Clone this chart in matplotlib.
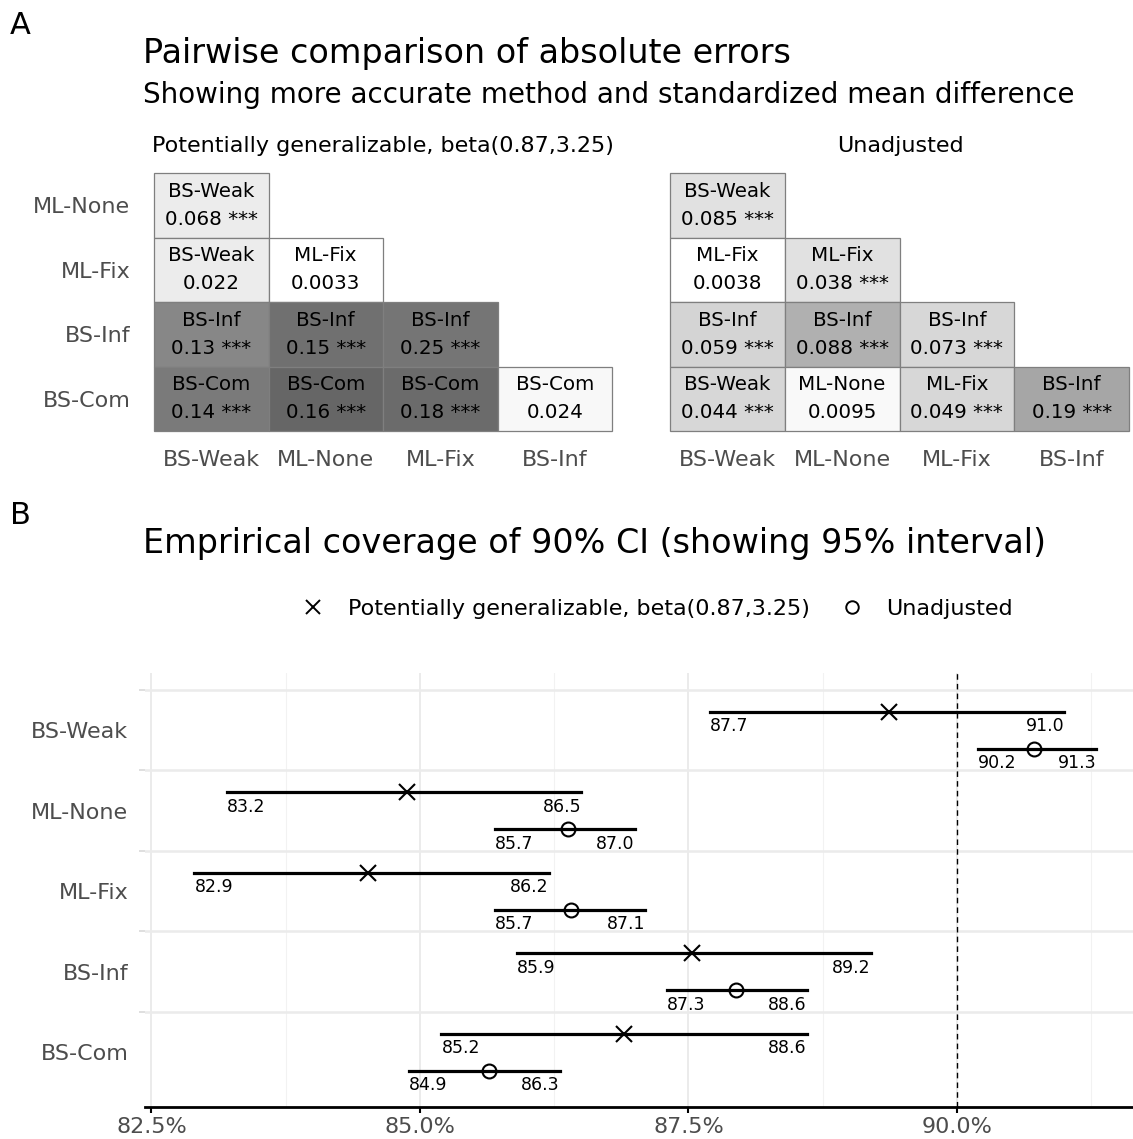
import numpy as np
import matplotlib.pyplot as plt
from matplotlib.colors import LinearSegmentedColormap
from matplotlib.lines import Line2D

W, H = 1133, 1139
DPI = 100

# ---- panel A data ----
methods_rows = ["ML-None", "ML-Fix", "BS-Inf", "BS-Com"]
methods_cols = ["BS-Weak", "ML-None", "ML-Fix", "BS-Inf"]

winner_left = [["BS-Weak"],
               ["BS-Weak", "ML-Fix"],
               ["BS-Inf", "BS-Inf", "BS-Inf"],
               ["BS-Com", "BS-Com", "BS-Com", "BS-Com"]]
smd_left = [["0.068"],
            ["0.022", "0.0033"],
            ["0.13", "0.15", "0.25"],
            ["0.14", "0.16", "0.18", "0.024"]]
sig_left = [[True],
            [False, False],
            [True, True, True],
            [True, True, True, False]]
shade_left = [[0.078],
              [0.078, 0.0],
              [0.47, 0.56, 0.54],
              [0.52, 0.60, 0.58, 0.031]]

winner_right = [["BS-Weak"],
                ["ML-Fix", "ML-Fix"],
                ["BS-Inf", "BS-Inf", "BS-Inf"],
                ["BS-Weak", "ML-None", "ML-Fix", "BS-Inf"]]
smd_right = [["0.085"],
             ["0.0038", "0.038"],
             ["0.059", "0.088", "0.073"],
             ["0.044", "0.0095", "0.049", "0.19"]]
sig_right = [[True],
             [False, True],
             [True, True, True],
             [True, False, True, True]]
shade_right = [[0.12],
               [0.0, 0.12],
               [0.17, 0.31, 0.16],
               [0.16, 0.027, 0.16, 0.35]]

# ---- panel B data ----
methods_b = ["BS-Weak", "ML-None", "ML-Fix", "BS-Inf", "BS-Com"]
gen_est = [89.37, 84.88, 84.52, 87.53, 86.90]
gen_lo = [87.7, 83.2, 82.9, 85.9, 85.2]
gen_hi = [91.0, 86.5, 86.2, 89.2, 88.6]
unadj_est = [90.72, 86.38, 86.41, 87.94, 85.64]
unadj_lo = [90.2, 85.7, 85.7, 87.3, 84.9]
unadj_hi = [91.3, 87.0, 87.1, 88.6, 86.3]
x_breaks = [82.5, 85.0, 87.5, 90.0]

gen_name = "Potentially generalizable, beta(0.87,3.25)"
unadj_name = "Unadjusted"

plt.rcParams['font.family'] = ['DejaVu Sans']
grey_cmap = LinearSegmentedColormap.from_list("wb", ["#ffffff", "#000000"])
axis_grey = "#4d4d4d"

fig = plt.figure(figsize=(W / DPI, H / DPI), dpi=DPI)


def px_axes(x0, y0, x1, y1):
    # pixel box (top-left origin) -> figure axes
    return fig.add_axes([x0 / W, 1 - y1 / H, (x1 - x0) / W, (y1 - y0) / H])


def fy(y):
    return 1 - y / H


def draw_grid(ax, winners, smds, sigs, shades, show_rows):
    for i in range(len(methods_rows)):
        for j in range(len(winners[i])):
            col = grey_cmap(shades[i][j])
            ax.add_patch(plt.Rectangle((j, i), 1, 1, facecolor=col,
                                       edgecolor="#7f7f7f", lw=0.9, clip_on=False))
            lab = smds[i][j] + (" ***" if sigs[i][j] else "")
            ax.text(j + 0.5, i + 0.28, winners[i][j], ha="center", va="center",
                    fontsize=14.3, color="black")
            ax.text(j + 0.5, i + 0.72, lab, ha="center", va="center",
                    fontsize=14.3, color="black")
    ax.set_xlim(0, 4)
    ax.set_ylim(4, 0)
    ax.set_xticks(np.arange(4) + 0.5)
    ax.set_xticklabels(methods_cols, fontsize=16, color=axis_grey)
    ax.set_yticks(np.arange(4) + 0.5)
    if show_rows:
        ax.set_yticklabels(methods_rows, fontsize=16, color=axis_grey)
    else:
        ax.set_yticklabels([])
    ax.tick_params(axis="x", length=0, pad=14)
    ax.tick_params(axis="y", length=0, pad=17)
    for s in ax.spines.values():
        s.set_visible(False)


axL = px_axes(154, 173, 612, 431)
draw_grid(axL, winner_left, smd_left, sig_left, shade_left, True)
axR = px_axes(670, 173, 1129, 431)
draw_grid(axR, winner_right, smd_right, sig_right, shade_right, False)

fig.text(10 / W, fy(25), "A", fontsize=22, va="center", ha="left")
fig.text(143 / W, fy(53), "Pairwise comparison of absolute errors",
         fontsize=24, va="center", ha="left")
fig.text(143 / W, fy(95), "Showing more accurate method and standardized mean difference",
         fontsize=20, va="center", ha="left")
fig.text(383 / W, fy(146), gen_name, fontsize=16, va="center", ha="center")
fig.text(900 / W, fy(146), unadj_name, fontsize=16, va="center", ha="center")

# ---- panel B ----
fig.text(10 / W, fy(515), "B", fontsize=22, va="center", ha="left")
fig.text(143 / W, fy(543), "Emprirical coverage of 90% CI (showing 95% interval)",
         fontsize=24, va="center", ha="left")

axB = px_axes(145, 673, 1133, 1107)
n = len(methods_b)
ypos = np.arange(n)[::-1] + 1.0
off = 0.23
for k in range(n):
    yg = ypos[k] + off
    yu = ypos[k] - off
    axB.plot([gen_lo[k], gen_hi[k]], [yg, yg], color="black", lw=2.3, zorder=3)
    axB.plot([gen_est[k]], [yg], marker="x", ms=11, mew=1.5, color="black", zorder=4)
    axB.plot([unadj_lo[k], unadj_hi[k]], [yu, yu], color="black", lw=2.3, zorder=3)
    axB.plot([unadj_est[k]], [yu], marker="o", ms=10, mew=1.5, mfc="white",
             color="black", zorder=4, fillstyle="none")
    for lo, hi, yy in [(gen_lo[k], gen_hi[k], yg), (unadj_lo[k], unadj_hi[k], yu)]:
        axB.text(lo, yy - 0.07, f"{lo:.1f}", ha="left", va="top", fontsize=12.5)
        axB.text(hi, yy - 0.07, f"{hi:.1f}", ha="right", va="top", fontsize=12.5)

axB.axvline(90.0, color="black", lw=1, ls=(0, (4, 3)), zorder=2)
axB.set_xlim(82.44, 91.64)
axB.set_ylim(0.317, 5.71)
axB.set_xticks(x_breaks)
axB.set_xticklabels([f"{v:.1f}%" for v in x_breaks], fontsize=16, color=axis_grey)
axB.set_xticks([83.75, 86.25, 88.75, 91.25], minor=True)
axB.set_yticks(ypos)
axB.set_yticklabels(methods_b, fontsize=16, color=axis_grey)
axB.set_yticks(np.arange(n) + 1.5, minor=True)
axB.tick_params(axis="y", which="major", length=0, pad=12)
axB.tick_params(axis="y", which="minor", length=4, color="#d9d9d9", width=1.2)
axB.tick_params(axis="x", which="major", length=4, width=1.5, color="black", pad=3)
axB.tick_params(axis="x", which="minor", length=0)
axB.grid(True, which="major", axis="x", color="#ebebeb", lw=1.4)
axB.grid(True, which="minor", axis="x", color="#f2f2f2", lw=0.8)
axB.grid(True, which="minor", axis="y", color="#ebebeb", lw=1.8)
axB.set_axisbelow(True)
for s in ["top", "right", "left"]:
    axB.spines[s].set_visible(False)
axB.spines["bottom"].set_linewidth(2)

handles = [Line2D([], [], ls="none", marker="x", ms=10, mew=1.4, color="black"),
           Line2D([], [], ls="none", marker="o", ms=9, mew=1.4, color="black",
                  fillstyle="none")]
fig.legend(handles, [gen_name, unadj_name], loc="center",
           bbox_to_anchor=(652 / W, fy(609)), ncol=2, frameon=False,
           fontsize=16, handletextpad=0.55, columnspacing=0.9)

fig.savefig("out.png", dpi=DPI)
